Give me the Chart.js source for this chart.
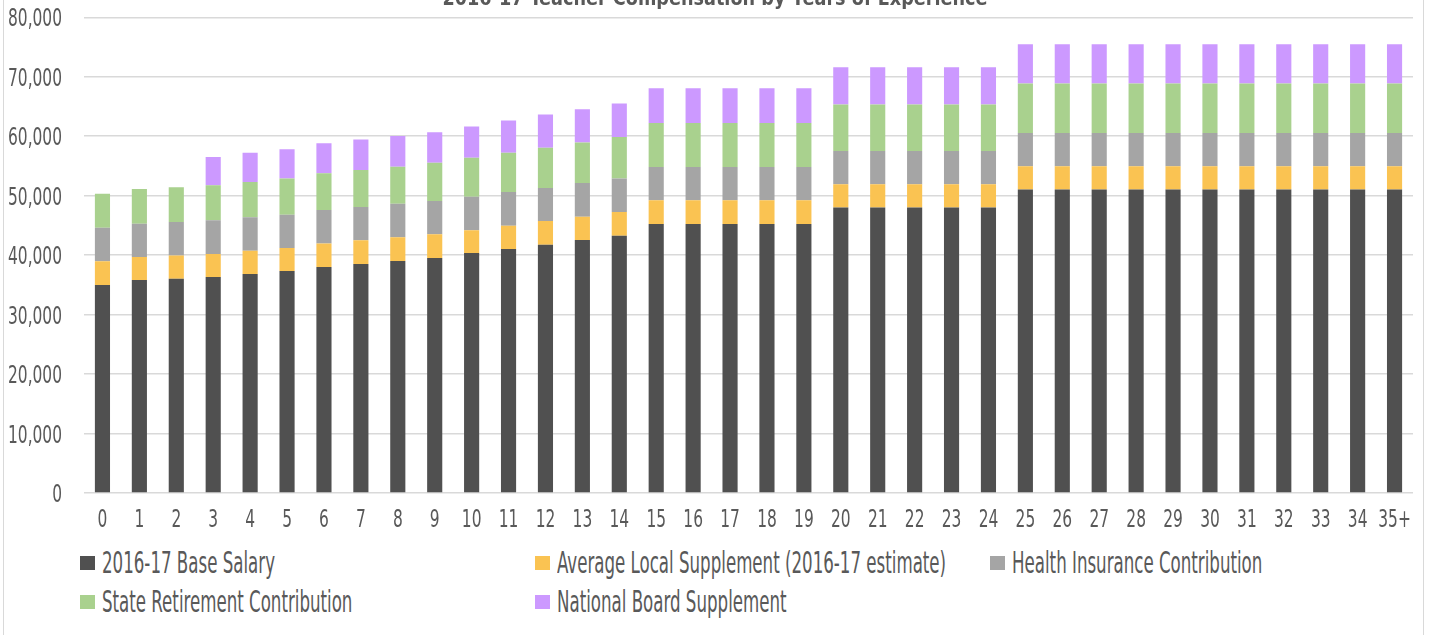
<!DOCTYPE html>
<html>
<head>
<meta charset="utf-8">
<script src="https://cdn.jsdelivr.net/npm/chart.js@4.4.1/dist/chart.umd.min.js"></script>
<style>
html,body{margin:0;padding:0;background:#fff;overflow:hidden;width:1430px;height:635px;}
#frame{position:absolute;left:3px;top:-10px;width:1421px;height:700px;border:1.5px solid #d9d9d9;box-sizing:border-box;}
#wrap{position:absolute;left:0;top:0;width:1430px;height:540px;}
#legend{position:absolute;left:80px;top:543px;width:1400px;font-family:'Liberation Sans Narrow','DejaVu Sans Condensed','Roboto Condensed','DejaVu Sans',sans-serif;color:#595959;}
.item{display:inline-flex;align-items:center;width:455px;height:39px;vertical-align:top;overflow:visible;}
.box{width:15px;height:14px;margin-right:7px;flex:none;}
.txt{font-size:30px;transform-origin:left center;white-space:nowrap;}
</style>
</head>
<body>
<div id="frame"></div>
<div id="wrap"><canvas id="c"></canvas></div>
<div id="legend"></div>
<script>
const chartTitle = '2016-17 Teacher Compensation by Years of Experience';
const categories = ['0','1','2','3','4','5','6','7','8','9','10','11','12','13','14','15','16','17','18','19','20','21','22','23','24','25','26','27','28','29','30','31','32','33','34','35+'];
const seriesNames = ['2016-17 Base Salary','Average Local Supplement (2016-17 estimate)','Health Insurance Contribution','State Retirement Contribution','National Board Supplement'];
const seriesColors = ['#505050','#fac352','#a5a5a5','#a9d18e','#cc99ff'];
const baseSalary = [35000,35810,36040,36310,36810,37320,37990,38500,39000,39510,40350,41020,41760,42540,43280,45230,45230,45230,45230,45230,48000,48000,48000,48000,48000,51020,51020,51020,51020,51020,51020,51020,51020,51020,51020,51020];
const localSupplement = [3990,3870,3920,3870,3940,3870,3990,3990,3990,3990,3820,3940,3970,3930,3970,3990,3990,3990,3990,3990,3920,3920,3920,3920,3920,3920,3920,3920,3920,3920,3920,3920,3920,3920,3920,3920];
const healthInsurance = [5610,5610,5610,5670,5610,5620,5610,5600,5640,5600,5670,5650,5560,5660,5620,5600,5600,5600,5600,5600,5600,5600,5600,5600,5600,5600,5600,5600,5600,5600,5600,5600,5600,5600,5600,5600];
const stateRetirement = [5720,5830,5830,5890,5940,6060,6170,6230,6250,6460,6560,6630,6790,6800,7000,7410,7410,7410,7410,7410,7810,7810,7810,7810,7810,8310,8310,8310,8310,8310,8310,8310,8310,8310,8310,8310];
const nationalBoard = [0,0,0,4760,4930,4930,5050,5110,5150,5100,5220,5390,5560,5600,5620,5830,5830,5830,5830,5830,6280,6280,6280,6280,6280,6620,6620,6620,6620,6620,6620,6620,6620,6620,6620,6620];
const yMin = 0, yMax = 80000, yStep = 10000;

const F = "'Liberation Sans Narrow','DejaVu Sans Condensed','Roboto Condensed','DejaVu Sans',sans-serif";
const TXT = '#595959';
const seriesData = [baseSalary, localSupplement, healthInsurance, stateRetirement, nationalBoard];
const fmt = v => Number(v).toLocaleString('en-US');

function condensed(c, text, x, y, sx, align) {
  c.save();
  c.translate(x, y);
  c.scale(sx, 1);
  c.textAlign = align;
  c.textBaseline = 'alphabetic';
  c.fillText(text, 0, 0);
  c.restore();
}

const textPlugin = {
  id: 'condensedText',
  afterDraw(chart) {
    const c = chart.ctx, a = chart.chartArea, xs = chart.scales.x, ys = chart.scales.y;
    c.save();
    c.fillStyle = TXT;
    // title
    c.font = 'bold 22px ' + F;
    const tsx = 545 / c.measureText(chartTitle).width;
    condensed(c, chartTitle, chart.width / 2, a.top - 12, tsx, 'center');
    // ticks
    c.font = '25px ' + F;
    const sx = 54 / c.measureText(fmt(yMax)).width;
    ys.ticks.forEach(t => {
      condensed(c, fmt(t.value), a.left - 22, ys.getPixelForValue(t.value) + 9, sx, 'right');
    });
    categories.forEach((lbl, i) => {
      condensed(c, lbl, xs.getPixelForTick(i), a.bottom + 34, sx, 'center');
    });
    c.restore();
  }
};

const chart = new Chart(document.getElementById('c'), {
  type: 'bar',
  data: {
    labels: categories,
    datasets: seriesNames.map((n, i) => ({
      label: n,
      data: seriesData[i],
      backgroundColor: seriesColors[i],
      borderWidth: 0,
      categoryPercentage: 1,
      barPercentage: 0.41
    }))
  },
  options: {
    responsive: true,
    maintainAspectRatio: false,
    animation: false,
    layout: { padding: { left: 0, right: 17, top: 17.3, bottom: 7 } },
    plugins: { legend: { display: false }, title: { display: false }, tooltip: { enabled: false } },
    scales: {
      x: {
        stacked: true,
        grid: { display: false, drawTicks: false },
        border: { display: false },
        ticks: { display: false, autoSkip: false },
        afterFit(s) { s.height = 40; }
      },
      y: {
        stacked: true,
        min: yMin, max: yMax,
        ticks: { stepSize: yStep, display: false },
        grid: { color: '#d9d9d9', lineWidth: 1.5, drawTicks: false },
        border: { display: false },
        afterFit(s) { s.width = 84; }
      }
    }
  },
  plugins: [textPlugin]
});

const mctx = document.createElement('canvas').getContext('2d');
mctx.font = '30px ' + F;
const legendScale = 173 / mctx.measureText(seriesNames[0]).width;
const lg = document.getElementById('legend');
seriesNames.forEach((n, i) => {
  const it = document.createElement('div');
  it.className = 'item';
  const b = document.createElement('span');
  b.className = 'box';
  b.style.background = seriesColors[i];
  const t = document.createElement('span');
  t.className = 'txt';
  t.style.transform = 'scaleX(' + legendScale + ')';
  t.textContent = n;
  it.appendChild(b); it.appendChild(t);
  lg.appendChild(it);
});
</script>
</body>
</html>
